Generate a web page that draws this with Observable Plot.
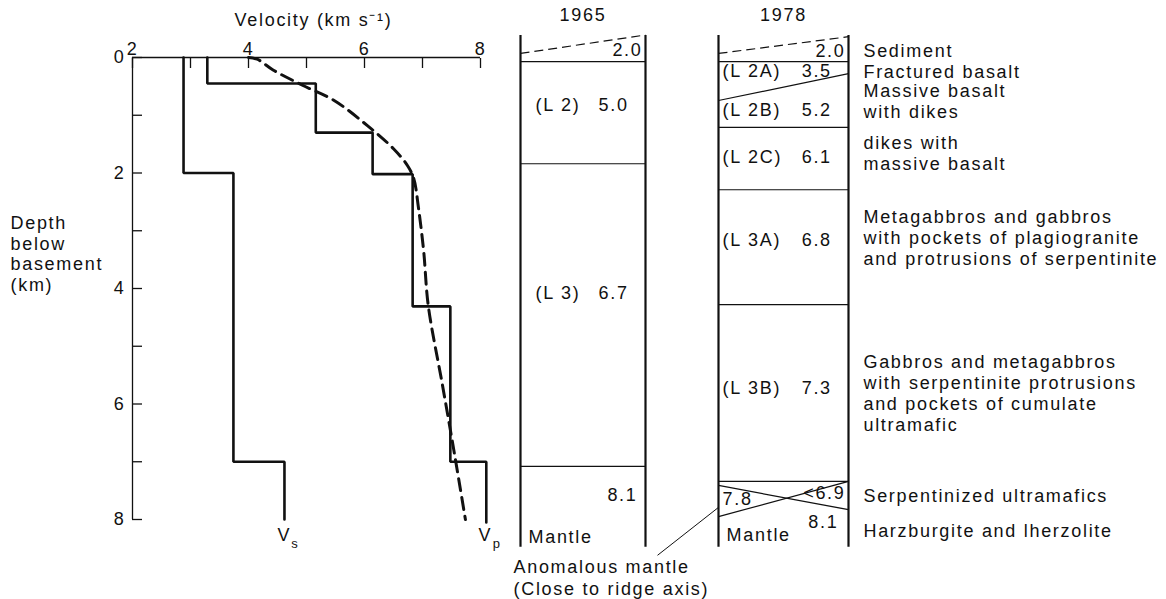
<!DOCTYPE html>
<html><head><meta charset="utf-8">
<script src="https://cdn.jsdelivr.net/npm/d3@7"></script>
<script src="https://cdn.jsdelivr.net/npm/@observablehq/plot@0.6"></script>
<style>
body{margin:0;background:#fff;}
#fig{position:relative;width:1166px;height:599px;background:#fff;}
#fig svg{position:absolute;left:0;top:0;overflow:visible;}
#fig svg text{letter-spacing:1.7px;}
</style></head><body><div id="fig"></div>
<script>
// ---------- data ----------
const velTicks = [2, 3, 4, 5, 6, 7, 8];
const depthTicks = [0, 1, 2, 3, 4, 5, 6, 7, 8];
const velocityTitle = "Velocity (km s\u207B\u00B9)";
const depthTitle = "Depth\nbelow\nbasement\n(km)";

// Vs step profile: velocity per layer, layer boundaries (km)
const vsVelocity = [2.88, 3.74, 4.62];
const vsBounds = [0, 2.0, 7.0, 8.0];
// Vp step profile
const vpVelocity = [3.29, 5.16, 6.14, 6.83, 7.48, 8.1];
const vpBounds = [0, 0.45, 1.3, 2.02, 4.31, 7.0, 8.05];
// smooth (dashed) Vp profile
const smoothVel = [4.0, 4.15, 4.43, 4.93, 5.47, 6.05, 6.5, 6.74, 6.85, 6.93, 7.02, 7.1, 7.34, 7.52, 7.74];
const smoothDepth = [0, 0.03, 0.22, 0.48, 0.74, 1.18, 1.58, 1.87, 2.1, 2.6, 3.35, 4.3, 5.65, 6.68, 8.0];

// column extent (km)
const columnTop = -0.38, columnBottom = 8.48;
// 1965 column
const sed1965 = [-0.07, -0.39];             // dashed sediment surface (left, right)
const bounds1965 = [0.07, 1.84, 7.08];      // horizontal boundaries
const layers1965 = ["(L 2)", "(L 3)"];
const layerVel1965 = ["5.0", "6.7"];
const layerDepth1965 = [0.83, 4.09];
// 1978 column
const sed1978 = [-0.07, -0.36];
const bounds1978Left  = [0.07, 0.745, 1.21, 2.29, 4.28, 7.34, 7.41, 7.95];
const bounds1978Right = [0.07, 0.28, 1.21, 2.29, 4.28, 7.34, 7.83, 7.34];
const layers1978 = ["(L 2A)", "(L 2B)", "(L 2C)", "(L 3A)", "(L 3B)"];
const layerVel1978 = ["3.5", "5.2", "6.1", "6.8", "7.3"];
const layerDepth1978 = [0.24, 0.92, 1.73, 3.17, 5.73];
const descriptions = [
  "Sediment", "Fractured basalt", "Massive basalt\nwith dikes", "dikes with\nmassive basalt",
  "Metagabbros and gabbros\nwith pockets of plagiogranite\nand protrusions of serpentinite",
  "Gabbros and metagabbros\nwith serpentinite protrusions\nand pockets of cumulate\nultramafic",
  "Serpentinized ultramafics", "Harzburgite and lherzolite"
];
const descriptionDepth = [-0.12, 0.24, 0.75, 1.65, 3.12, 5.8, 7.58, 8.19];
const anomalousLabel = "Anomalous mantle\n(Close to ridge axis)";

// ---------- drawing ----------
const FONT = "'Liberation Sans', Arial, Helvetica, sans-serif";
const INK = "#111";
const W = 1166, H = 599, TOP = 57, BOTTOM = 519;
const base = {
  width: W, height: H, marginTop: TOP, marginBottom: H - BOTTOM,
  style: {fontFamily: FONT, fontSize: "18px", color: INK, background: "transparent", overflow: "visible"}
};
const steps = (vel, b) => vel.flatMap((v, i) => [{v, d: b[i]}, {v, d: b[i + 1]}]);
const smooth = smoothVel.map((v, i) => ({v, d: smoothDepth[i]}));
const evenLabel = d => (d % 2 === 0 ? String(d) : "");

const leftPanel = Plot.plot({
  ...base, marginLeft: 132, marginRight: W - 480,
  x: {domain: [2, 8]},
  y: {domain: [0, 8], reverse: true},
  marks: [
    Plot.ruleY([0], {stroke: INK, strokeWidth: 1.3}),
    Plot.ruleX([2], {stroke: INK, strokeWidth: 1.3}),
    Plot.axisX({anchor: "top", ticks: velTicks, tickSize: -10, tickPadding: 13, tickFormat: evenLabel, fontSize: 18, strokeWidth: 1.3, label: null}),
    Plot.axisY({anchor: "left", ticks: depthTicks, tickSize: -10, tickPadding: 17, tickFormat: evenLabel, fontSize: 18, strokeWidth: 1.3, label: null}),
    Plot.line(steps(vsVelocity, vsBounds), {x: "v", y: "d", stroke: INK, strokeWidth: 2.6, strokeLinejoin: "miter"}),
    Plot.line(steps(vpVelocity, vpBounds), {x: "v", y: "d", stroke: INK, strokeWidth: 2.6, strokeLinejoin: "miter"}),
    Plot.line(smooth, {x: "v", y: "d", curve: "catmull-rom", stroke: INK, strokeWidth: 3, strokeDasharray: "12,7"}),
    Plot.text([velocityTitle], {frameAnchor: "top", lineAnchor: "middle", dx: 7, dy: -37, fontSize: 18, fill: INK}),
    Plot.text([depthTitle], {frameAnchor: "left", dx: -122, dy: -35, textAnchor: "start", lineHeight: 1.14, fontSize: 18, fill: INK}),
    Plot.text(["V"], {x: vsVelocity[vsVelocity.length - 1], y: 8, dy: 16, fontSize: 18, fill: INK}),
    Plot.text(["s"], {x: vsVelocity[vsVelocity.length - 1], y: 8, dx: 11, dy: 24, fontSize: 13, fill: INK}),
    Plot.text(["V"], {x: vpVelocity[vpVelocity.length - 1], y: 8, dx: -1, dy: 16, fontSize: 18, fill: INK}),
    Plot.text(["p"], {x: vpVelocity[vpVelocity.length - 1], y: 8, dx: 11, dy: 24, fontSize: 13, fill: INK})
  ]
});

function column(leftPx, rightPx, marks) {
  return Plot.plot({
    ...base, marginLeft: leftPx, marginRight: W - rightPx,
    x: {domain: [0, 1], axis: null},
    y: {domain: [0, 8], reverse: true, axis: null},
    marks
  });
}
const idx = a => d3.range(a.length);

const col1965 = column(520, 645, [
  Plot.ruleX([0, 1], {y1: columnTop, y2: columnBottom, stroke: INK, strokeWidth: 2.2}),
  Plot.link([0], {x1: 0, x2: 1, y1: sed1965[0], y2: sed1965[1], stroke: INK, strokeWidth: 1.2, strokeDasharray: "9,5"}),
  Plot.ruleY(bounds1965, {x1: 0, x2: 1, stroke: INK, strokeWidth: 1.2}),
  Plot.text(["1965"], {x: 0.5, frameAnchor: "top", lineAnchor: "middle", dy: -42, fontSize: 18, fill: INK}),
  Plot.text(["2.0"], {x: 0.976, y: -0.12, textAnchor: "end", fontSize: 18, fill: INK}),
  Plot.text(idx(layers1965), {x: 0.12, y: i => layerDepth1965[i], text: i => layers1965[i], textAnchor: "start", fontSize: 18, fill: INK}),
  Plot.text(idx(layers1965), {x: 0.624, y: i => layerDepth1965[i], text: i => layerVel1965[i], textAnchor: "start", fontSize: 18, fill: INK}),
  Plot.text(["8.1"], {x: 0.936, y: 7.58, textAnchor: "end", fontSize: 18, fill: INK}),
  Plot.text(["Mantle"], {x: 0.064, y: 8.31, textAnchor: "start", fontSize: 18, fill: INK})
]);

const col1978 = column(718, 848, [
  Plot.ruleX([0, 1], {y1: columnTop, y2: columnBottom, stroke: INK, strokeWidth: 2.2}),
  Plot.link([0], {x1: 0, x2: 1, y1: sed1978[0], y2: sed1978[1], stroke: INK, strokeWidth: 1.2, strokeDasharray: "9,5"}),
  Plot.link(idx(bounds1978Left), {x1: 0, x2: 1, y1: i => bounds1978Left[i], y2: i => bounds1978Right[i], stroke: INK, strokeWidth: 1.2}),
  Plot.text(["1978"], {x: 0.5, frameAnchor: "top", lineAnchor: "middle", dy: -42, fontSize: 18, fill: INK}),
  Plot.text(["2.0"], {x: 0.977, y: -0.1, textAnchor: "end", fontSize: 18, fill: INK}),
  Plot.text(idx(layers1978), {x: 0.031, y: i => layerDepth1978[i], text: i => layers1978[i], textAnchor: "start", fontSize: 18, fill: INK}),
  Plot.text(idx(layers1978), {x: 0.64, y: i => layerDepth1978[i], text: i => layerVel1978[i], textAnchor: "start", fontSize: 18, fill: INK}),
  Plot.text(["7.8"], {x: 0.031, y: 7.65, textAnchor: "start", fontSize: 18, fill: INK}),
  Plot.text(["<6.9"], {x: 0.977, y: 7.55, textAnchor: "end", fontSize: 18, fill: INK}),
  Plot.text(["8.1"], {x: 0.923, y: 8.05, textAnchor: "end", fontSize: 18, fill: INK}),
  Plot.text(["Mantle"], {x: 0.062, y: 8.28, textAnchor: "start", fontSize: 18, fill: INK}),
  Plot.text(idx(descriptions), {x: 1.115, y: i => descriptionDepth[i], text: i => descriptions[i], textAnchor: "start", lineHeight: 1.17, fontSize: 18, fill: INK}),
  Plot.link([0], {x1: 0, y1: 7.79, x2: -0.469, y2: 8.62, stroke: INK, strokeWidth: 1}),
  Plot.text([anomalousLabel], {x: -1.577, y: 9.0, textAnchor: "start", lineHeight: 1.17, fontSize: 18, fill: INK})
]);

const fig = document.getElementById("fig");
fig.append(leftPanel, col1965, col1978);
</script>
</body></html>
